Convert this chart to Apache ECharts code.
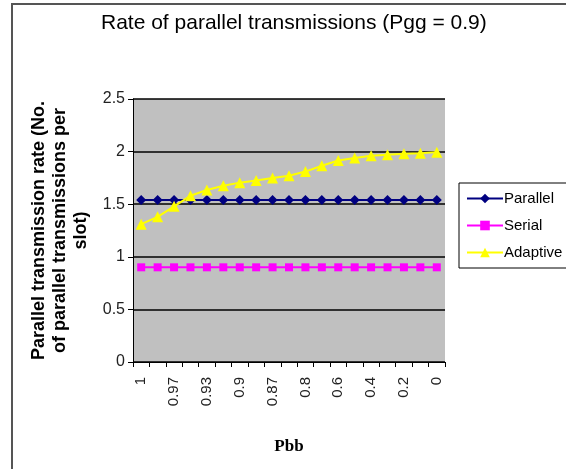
<!DOCTYPE html>
<html><head><meta charset="utf-8">
<script src="https://cdn.jsdelivr.net/npm/echarts@6/dist/echarts.min.js"></script>
<style>html,body{margin:0;padding:0;background:#fff}#c{width:566px;height:469px}</style>
</head><body><div id="c"></div>
<script>
const categories = ['1','0.99','0.97','0.95','0.93','0.91','0.9','0.89','0.87','0.85','0.8','0.7','0.6','0.5','0.4','0.3','0.2','0.1','0'];
const parallel = [1.54,1.54,1.54,1.54,1.54,1.54,1.54,1.54,1.54,1.54,1.54,1.54,1.54,1.54,1.54,1.54,1.54,1.54,1.54];
const serial = [0.9,0.9,0.9,0.9,0.9,0.9,0.9,0.9,0.9,0.9,0.9,0.9,0.9,0.9,0.9,0.9,0.9,0.9,0.9];
const adaptive = [1.31,1.38,1.48,1.58,1.635,1.675,1.705,1.725,1.75,1.77,1.81,1.865,1.915,1.94,1.96,1.97,1.98,1.985,1.995];
const yTicks = {min:0, max:2.5, interval:0.5};

const chart = echarts.init(document.getElementById('c'), null, {renderer:'canvas'});
const sans = 'Liberation Sans, Arial, sans-serif';
chart.setOption({
  animation:false,
  backgroundColor:'#fff',
  title:{text:'Rate of parallel transmissions (Pgg = 0.9)', left:96, top:8,
    textStyle:{fontFamily:sans, fontSize:21, fontWeight:'normal', color:'#000'}},
  graphic:[{type:'rect', z:-1, shape:{x:12,y:4,width:620,height:620}, style:{fill:'none', stroke:'#555', lineWidth:2}}],
  legend:{orient:'vertical', left:459, top:183, width:110, padding:[8,20,8,7], itemGap:12,
    itemWidth:36, itemHeight:12, borderColor:'#000', borderWidth:1, backgroundColor:'#fff',
    textStyle:{fontFamily:sans, fontSize:15, color:'#000', padding:[0,0,0,-4]},
    data:['Parallel','Serial','Adaptive']},
  grid:{left:133, right:121, top:99, bottom:107, show:true, backgroundColor:'#c0c0c0', borderWidth:0,
    containLabel:false, outerBoundsMode:'none'},
  xAxis:{type:'category', data:categories, boundaryGap:true,
    name:'Pbb', nameLocation:'middle', nameGap:76,
    nameTextStyle:{fontFamily:'Liberation Serif, Times New Roman, serif', fontWeight:'bold', fontSize:17, color:'#000'},
    axisLine:{lineStyle:{color:'#000', width:1}},
    axisTick:{show:true, interval:0, alignWithLabel:false, length:5, lineStyle:{color:'#000'}},
    axisLabel:{interval:1, rotate:90, margin:15, fontFamily:sans, fontSize:15, color:'#222'},
    splitLine:{show:false}},
  yAxis:{type:'value', min:yTicks.min, max:yTicks.max, interval:yTicks.interval,
    name:'Parallel transmission rate (No.\nof parallel transmissions per\nslot)',
    nameLocation:'middle', nameRotate:90, nameGap:40,
    nameTextStyle:{fontFamily:sans, fontWeight:'bold', fontSize:18, color:'#000', lineHeight:21, align:'center'},
    axisLine:{show:true, lineStyle:{color:'#000', width:1}},
    axisTick:{show:true, length:5, lineStyle:{color:'#000'}},
    axisLabel:{margin:8, fontFamily:sans, fontSize:16, color:'#222'},
    splitLine:{show:true, lineStyle:{color:'#000', width:1.5}}},
  series:[
    {name:'Parallel', type:'line', data:parallel, symbol:'diamond', symbolSize:10, showAllSymbol:true,
     itemStyle:{color:'#000080'}, lineStyle:{color:'#000080', width:2}},
    {name:'Serial', type:'line', data:serial, symbol:'rect', symbolSize:8, showAllSymbol:true,
     itemStyle:{color:'#ff00ff'}, lineStyle:{color:'#ff00ff', width:2}},
    {name:'Adaptive', type:'line', data:adaptive, symbol:'triangle', symbolSize:11, showAllSymbol:true,
     itemStyle:{color:'#ffff00'}, lineStyle:{color:'#ffff00', width:2}}
  ]
});
</script></body></html>
